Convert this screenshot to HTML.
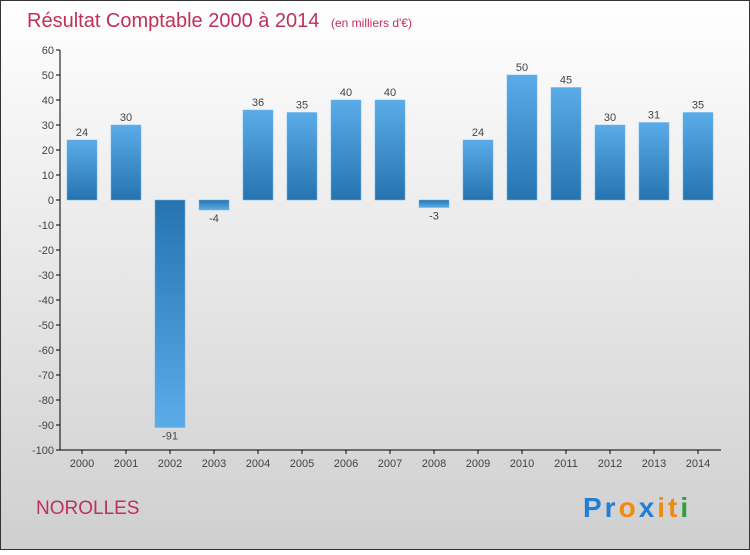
<!DOCTYPE html>
<html><head><meta charset="utf-8"><style>
body{margin:0;width:750px;height:550px;overflow:hidden;font-family:"Liberation Sans",sans-serif}
</style></head><body>
<svg id="chart" width="750" height="550" xmlns="http://www.w3.org/2000/svg">
<defs>
<linearGradient id="bg" x1="0" y1="0" x2="0" y2="1"><stop offset="0" stop-color="#ffffff"/><stop offset="1" stop-color="#cfcfcf"/></linearGradient>
<linearGradient id="pos" x1="0" y1="0" x2="0" y2="1"><stop offset="0" stop-color="#5aace8"/><stop offset="1" stop-color="#2673b0"/></linearGradient>
<linearGradient id="neg" x1="0" y1="0" x2="0" y2="1"><stop offset="0" stop-color="#2673b0"/><stop offset="1" stop-color="#5aace8"/></linearGradient>
</defs>
<rect x="0.5" y="0.5" width="749" height="549" fill="url(#bg)" stroke="#333" stroke-width="1"/>
<text x="27" y="27" font-size="20" fill="#c0305a">Résultat Comptable 2000 à 2014 <tspan font-size="12" dx="6">(en milliers d'€)</tspan></text>
<g id="yaxis"></g>
<g id="bars"></g>
<g id="xaxis"></g>
<text x="36" y="514" font-size="19" fill="#c0305a">NOROLLES</text>
<text x="583" y="517" font-size="28" font-weight="bold" letter-spacing="3" fill="#1f7fd6">Pr<tspan fill="#f08a10">o</tspan><tspan fill="#1f7fd6">x</tspan><tspan fill="#f08a10">i</tspan><tspan fill="#f08a10">t</tspan><tspan fill="#2aa040">i</tspan></text>
</svg>
<script>
const years=["2000","2001","2002","2003","2004","2005","2006","2007","2008","2009","2010","2011","2012","2013","2014"];
const values=[24,30,-91,-4,36,35,40,40,-3,24,50,45,30,31,35];
const yTicks=[60,50,40,30,20,10,0,-10,-20,-30,-40,-50,-60,-70,-80,-90,-100];
const NS="http://www.w3.org/2000/svg";
function y(v){return 200-v*2.5;}
function x(i){return 82+i*44;}
function mk(t,a,p){const e=document.createElementNS(NS,t);for(const k in a)e.setAttribute(k,a[k]);p.appendChild(e);return e;}
const ya=document.getElementById('yaxis'),ba=document.getElementById('bars'),xa=document.getElementById('xaxis');
mk('line',{x1:60,y1:y(60),x2:60,y2:y(-100),stroke:'#000'},ya);
yTicks.forEach(t=>{
 const l=mk('line',{x1:56,y1:y(t),x2:60,y2:y(t),stroke:'#000'},ya);
 
 
 const tx=mk('text',{x:54,y:y(t)+4,'font-size':11,'text-anchor':'end',fill:'#444'},ya);
 tx.textContent=t;
 
 
});
values.forEach((v,i)=>{
 const top=Math.min(y(v),y(0)),h=Math.abs(y(v)-y(0));
 const r=mk('rect',{x:x(i)-15,y:top,width:30,height:h,fill:v>=0?'url(#pos)':'url(#neg)',stroke:'#6ab4ea','stroke-width':0.5},ba);
 
 
 const lb=mk('text',{x:x(i),y:v>=0?y(v)-4:y(v)+12,'font-size':11,'text-anchor':'middle',fill:'#444'},ba);
 lb.textContent=v;
 
 
});
mk('line',{x1:60,y1:450,x2:721,y2:450,stroke:'#000'},xa);
years.forEach((yr,i)=>{
 const l=mk('line',{x1:x(i),y1:450,x2:x(i),y2:454,stroke:'#000'},xa);
 
 
 const t=mk('text',{x:x(i),y:467,'font-size':11,'text-anchor':'middle',fill:'#444'},xa);
 t.textContent=yr;
 
 
});
</script>
</body></html>
